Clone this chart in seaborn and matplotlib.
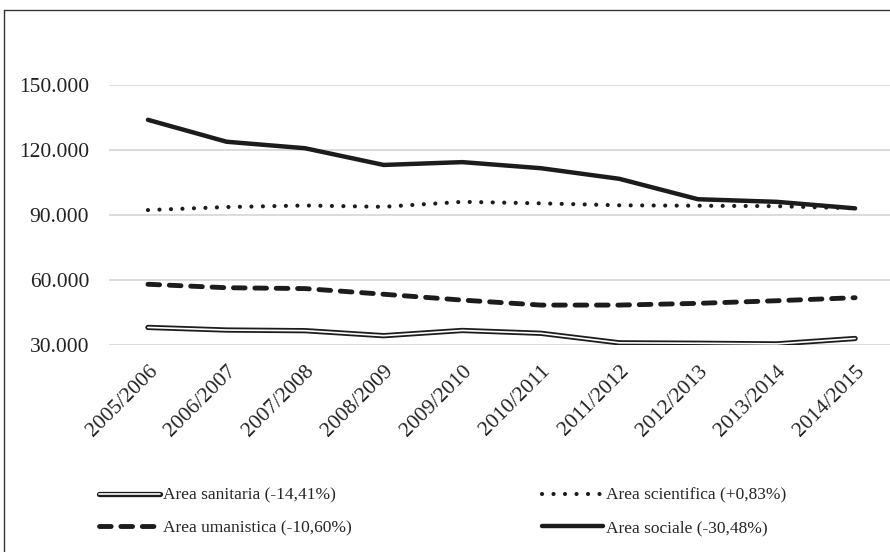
# iscritti per area disciplinare, 2005/2006 - 2014/2015

import matplotlib
matplotlib.use("Agg")
import matplotlib.pyplot as plt
import matplotlib.patheffects as pe
from matplotlib.lines import Line2D
from matplotlib.ticker import FuncFormatter
import numpy as np
import pandas as pd
import seaborn as sns

anni = ["2005/2006", "2006/2007", "2007/2008", "2008/2009", "2009/2010",
        "2010/2011", "2011/2012", "2012/2013", "2013/2014", "2014/2015"]

sanitaria = [38100, 36900, 36600, 34300, 36700, 35400, 31000, 30800, 30500, 33000]
scientifica = [92200, 93600, 94300, 93700, 96000, 95300, 94400, 94200, 94000, 93000]
umanistica = [58000, 56400, 56000, 53400, 50700, 48400, 48400, 49200, 50400, 51800]
sociale = [133800, 123700, 120700, 113000, 114300, 111500, 106600, 97200, 96000, 93000]

etichette = ["Area sanitaria (-14,41%)", "Area scientifica (+0,83%)",
             "Area umanistica (-10,60%)", "Area sociale (-30,48%)"]
y_ticks = [30000, 60000, 90000, 120000, 150000]

df = pd.DataFrame({"anno": anni, "sanitaria": sanitaria, "scientifica": scientifica,
                   "umanistica": umanistica, "sociale": sociale})
df["pos"] = np.arange(len(anni))

sns.set_style("white")
plt.rcParams["font.family"] = ["Liberation Serif", "DejaVu Serif"]

ink = "#1c1c1c"

fig = plt.figure(figsize=(8.9, 5.52), dpi=100)
ax = fig.add_axes([0.1221, 0.375, 0.8828, 0.4716])

# area sanitaria: double line (white core, dark outline)
sns.lineplot(data=df, x="pos", y="sanitaria", ax=ax, color="white", linewidth=1.2,
             label=etichette[0],
             path_effects=[pe.Stroke(linewidth=3.8, foreground=ink), pe.Normal()])
l_san = ax.lines[-1]
l_san.set_solid_capstyle("round")

# area scientifica: round dots
sns.lineplot(data=df, x="pos", y="scientifica", ax=ax, color=ink, linewidth=3.0,
             label=etichette[1])
l_sci = ax.lines[-1]
l_sci.set_dashes((0.01, 2.75))
l_sci.set_dash_capstyle("round")

# area umanistica: long dashes
sns.lineplot(data=df, x="pos", y="umanistica", ax=ax, color=ink, linewidth=3.5,
             label=etichette[2])
l_uma = ax.lines[-1]
l_uma.set_dashes((2.4, 2.0))
l_uma.set_dash_capstyle("round")

# area sociale: thick solid
sns.lineplot(data=df, x="pos", y="sociale", ax=ax, color=ink, linewidth=3.2,
             label=etichette[3])
l_soc = ax.lines[-1]
l_soc.set_solid_capstyle("round")

ax.get_legend().remove()

ax.set_xlim(-0.5, len(anni) - 0.5)
ax.set_ylim(30000, 150000)
ax.set_yticks(y_ticks)
ax.yaxis.set_major_formatter(FuncFormatter(lambda v, p: f"{int(v):,}".replace(",", ".")))
ax.set_xticks(df["pos"])
ax.set_xticklabels(anni, rotation=45, ha="right", rotation_mode="anchor")
ax.tick_params(axis="both", length=0, labelsize=15.5, colors="#222222")
ax.tick_params(axis="y", pad=14)
ax.tick_params(axis="x", pad=12)
ax.set_xlabel("")
ax.set_ylabel("")

ax.grid(axis="y", color="#d9d9d9", linewidth=1.3)
ax.set_axisbelow(True)
for s in ax.spines.values():
    s.set_visible(False)

# legend, two columns under the chart
handles = [l_san, l_uma, l_sci, l_soc]
labels = [etichette[0], etichette[2], etichette[1], etichette[3]]
fig.legend(handles, labels, ncol=2, loc="lower left", bbox_to_anchor=(0.094, 0.0),
           frameon=False, fontsize=12.5, handlelength=3.5, handletextpad=0.15,
           columnspacing=11.0, labelspacing=0.95)

# frame lines on top and left only
fig.add_artist(Line2D([0.005, 1.0], [0.981, 0.981], color="#333333", linewidth=1.0))
fig.add_artist(Line2D([0.005, 0.005], [0.0, 0.981], color="#333333", linewidth=1.0))

fig.savefig("out.png", dpi=100)
plt.close()
